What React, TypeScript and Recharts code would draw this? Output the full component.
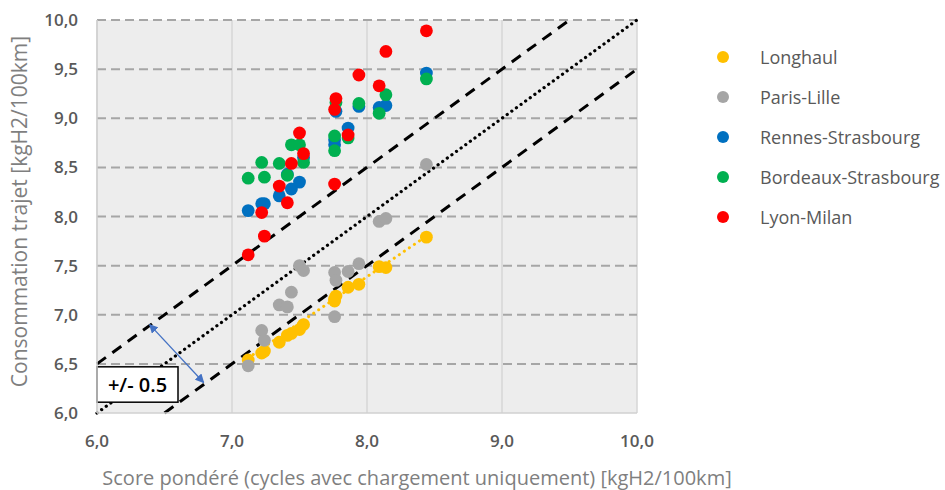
import React from "react"
import {
  ScatterChart, Scatter, XAxis, YAxis, CartesianGrid,
  ReferenceLine, Legend,
} from "recharts"

// score pondéré per cycle (same cycles for every route)
const scoreX = [7.12, 7.22, 7.24, 7.35, 7.41, 7.44, 7.50, 7.53, 7.76, 7.76, 7.77, 7.86, 7.94, 8.09, 8.14, 8.44]

// consommation trajet per route
const longhaul = [6.54, 6.61, 6.63, 6.72, 6.79, 6.81, 6.85, 6.90, 7.14, 7.16, 7.19, 7.28, 7.31, 7.49, 7.48, 7.79]
const parisLille = [6.48, 6.84, 6.74, 7.10, 7.08, 7.23, 7.50, 7.45, 7.43, 6.98, 7.35, 7.44, 7.52, 7.95, 7.98, 8.53]
const rennesStrasbourg = [8.06, 8.13, 8.13, 8.21, 8.43, 8.28, 8.35, 8.60, 8.78, 8.73, 9.07, 8.90, 9.12, 9.11, 9.13, 9.46]
const bordeauxStrasbourg = [8.39, 8.55, 8.40, 8.54, 8.42, 8.73, 8.73, 8.55, 8.82, 8.67, 9.16, 8.80, 9.15, 9.05, 9.24, 9.40]
const lyonMilan = [7.61, 8.04, 7.80, 8.31, 8.14, 8.54, 8.85, 8.64, 8.33, 9.09, 9.20, 8.83, 9.44, 9.33, 9.68, 9.89]

const seriesNames = ["Longhaul", "Paris-Lille", "Rennes-Strasbourg", "Bordeaux-Strasbourg", "Lyon-Milan"]
const seriesValues = [longhaul, parisLille, rennesStrasbourg, bordeauxStrasbourg, lyonMilan]
const seriesColors = ["#FFC000", "#A5A5A5", "#0070C0", "#00B050", "#FF0000"]

const xTicks = [6, 7, 8, 9, 10]
const yTicks = [6, 6.5, 7, 7.5, 8, 8.5, 9, 9.5, 10]

// y = x and the +/- 0.5 band
const diagonal = [{ x: 6, y: 6 }, { x: 10, y: 10 }]
const upperBand = [{ x: 6, y: 6.5 }, { x: 9.5, y: 10 }]
const lowerBand = [{ x: 6.5, y: 6 }, { x: 10, y: 9.5 }]
// linear trend of Longhaul
const longhaulTrend = [{ x: 7.12, y: 6.56 }, { x: 8.44, y: 7.80 }]
// annotation: arrow and text box (corners in data units)
const bandArrow = [{ x: 6.39, y: 6.9 }, { x: 6.79, y: 6.31 }]
const bandBox = [{ x: 6.0, y: 6.47 }, { x: 6.6, y: 6.11 }]
const bandText = "+/- 0.5"

const FONT = "'Open Sans', sans-serif"
const fmt = (v: number) => v.toFixed(1).replace(".", ",")

const makeDot = (color: string) => (props: any) =>
  <circle cx={props.cx} cy={props.cy} r={6.4} fill={color} />

const ArrowLine = (props: any) => (
  <line x1={props.x1} y1={props.y1} x2={props.x2} y2={props.y2}
        stroke="#4472C4" strokeWidth={1.3}
        markerStart="url(#arrowHead)" markerEnd="url(#arrowHead)" />
)

// drawn as a reference line shape so it sits above the dashed lines
const TextBox = (props: any) => {
  const x = Math.min(props.x1, props.x2)
  const y = Math.min(props.y1, props.y2)
  const w = Math.abs(props.x2 - props.x1)
  const h = Math.abs(props.y2 - props.y1)
  return (
    <g>
      <rect x={x} y={y} width={w} height={h} fill="#fff" stroke="#000" strokeWidth={1.5} />
      <text x={x + w / 2} y={y + h / 2} textAnchor="middle" dominantBaseline="central"
            style={{ fontSize: 20, fontWeight: 600, fill: "#000", fontFamily: FONT }}>
        {bandText}
      </text>
    </g>
  )
}

const LegendContent = () => (
  <div style={{ fontFamily: FONT }}>
    {seriesNames.map((name, i) => (
      <div key={name} style={{ height: 40, display: "flex", alignItems: "center" }}>
        <span style={{
          display: "inline-block", width: 12, height: 12, borderRadius: 6,
          background: seriesColors[i], marginLeft: 17, marginRight: 31,
        }} />
        <span style={{ fontSize: 18, color: "#595959" }}>{name}</span>
      </div>
    ))}
  </div>
)

export default function App() {
  const series = seriesNames.map((name, i) => ({
    name,
    color: seriesColors[i],
    data: scoreX.map((x, j) => ({ x, y: seriesValues[i][j] })),
  }))

  return (
    <div style={{ position: "absolute", left: 0, top: 0, width: 945, height: 490, background: "#fff" }}>
      <ScatterChart width={945} height={490} margin={{ top: 20, right: 63, bottom: 0, left: 0 }}>
        <defs>
          <marker id="arrowHead" viewBox="0 0 10 10" refX="9" refY="5"
                  markerWidth="7" markerHeight="7" orient="auto-start-reverse">
            <path d="M0,0 L10,5 L0,10 z" fill="#4472C4" />
          </marker>
        </defs>
        <CartesianGrid horizontal={false} verticalValues={xTicks} stroke="#d6d6d6"
                       strokeWidth={1.5} fill="#ededed" fillOpacity={1} />
        <CartesianGrid vertical={false} horizontalValues={yTicks.slice(1)} stroke="#a6a6a6"
                       strokeWidth={2} strokeDasharray="9 5" />
        <XAxis type="number" dataKey="x" domain={[6, 10]} ticks={xTicks} height={77}
               tickFormatter={fmt} tickLine={false} tickSize={0} tickMargin={22}
               axisLine={{ stroke: "#d0d0d0", strokeWidth: 1.5 }}
               tick={{ fontSize: 17, fontWeight: 600, fill: "#595959", fontFamily: FONT }}
               label={{ value: "Score pondéré (cycles avec chargement uniquement) [kgH2/100km]",
                        position: "insideBottom", offset: 5, dx: 50,
                        style: { fontSize: 20, fill: "#7f7f7f", fontFamily: FONT } }} />
        <YAxis type="number" dataKey="y" domain={[6, 10]} ticks={yTicks} width={97}
               tickFormatter={fmt} tickLine={false} tickSize={0} tickMargin={19}
               axisLine={{ stroke: "#d0d0d0", strokeWidth: 1.5 }}
               tick={{ fontSize: 17, fontWeight: 600, fill: "#595959", fontFamily: FONT }}
               label={{ value: "Consommation trajet [kgH2/100km]", angle: -90,
                        position: "insideLeft", offset: 20, dy: -5,
                        style: { fontSize: 21, fill: "#7f7f7f", fontFamily: FONT, textAnchor: "middle" } }} />
        <Legend layout="vertical" align="right" verticalAlign="top"
                wrapperStyle={{ left: 700, top: 37, width: 245 }}
                content={<LegendContent />} />
        {series.map(s => (
          <Scatter key={s.name} name={s.name} data={s.data} fill={s.color}
                   shape={makeDot(s.color)} isAnimationActive={false} />
        ))}
        <ReferenceLine segment={longhaulTrend} stroke="#FFC000" strokeWidth={3}
                       strokeDasharray="0.1 6" strokeLinecap="round" />
        <ReferenceLine segment={diagonal} stroke="#000" strokeWidth={3.2}
                       strokeDasharray="0.1 5.6" strokeLinecap="round" />
        <ReferenceLine segment={upperBand} stroke="#000" strokeWidth={3}
                       strokeDasharray="11 8" />
        <ReferenceLine segment={lowerBand} stroke="#000" strokeWidth={3}
                       strokeDasharray="11 8" />
        <ReferenceLine segment={bandArrow} shape={ArrowLine} />
        <ReferenceLine segment={bandBox} shape={TextBox} />
      </ScatterChart>
    </div>
  )
}
